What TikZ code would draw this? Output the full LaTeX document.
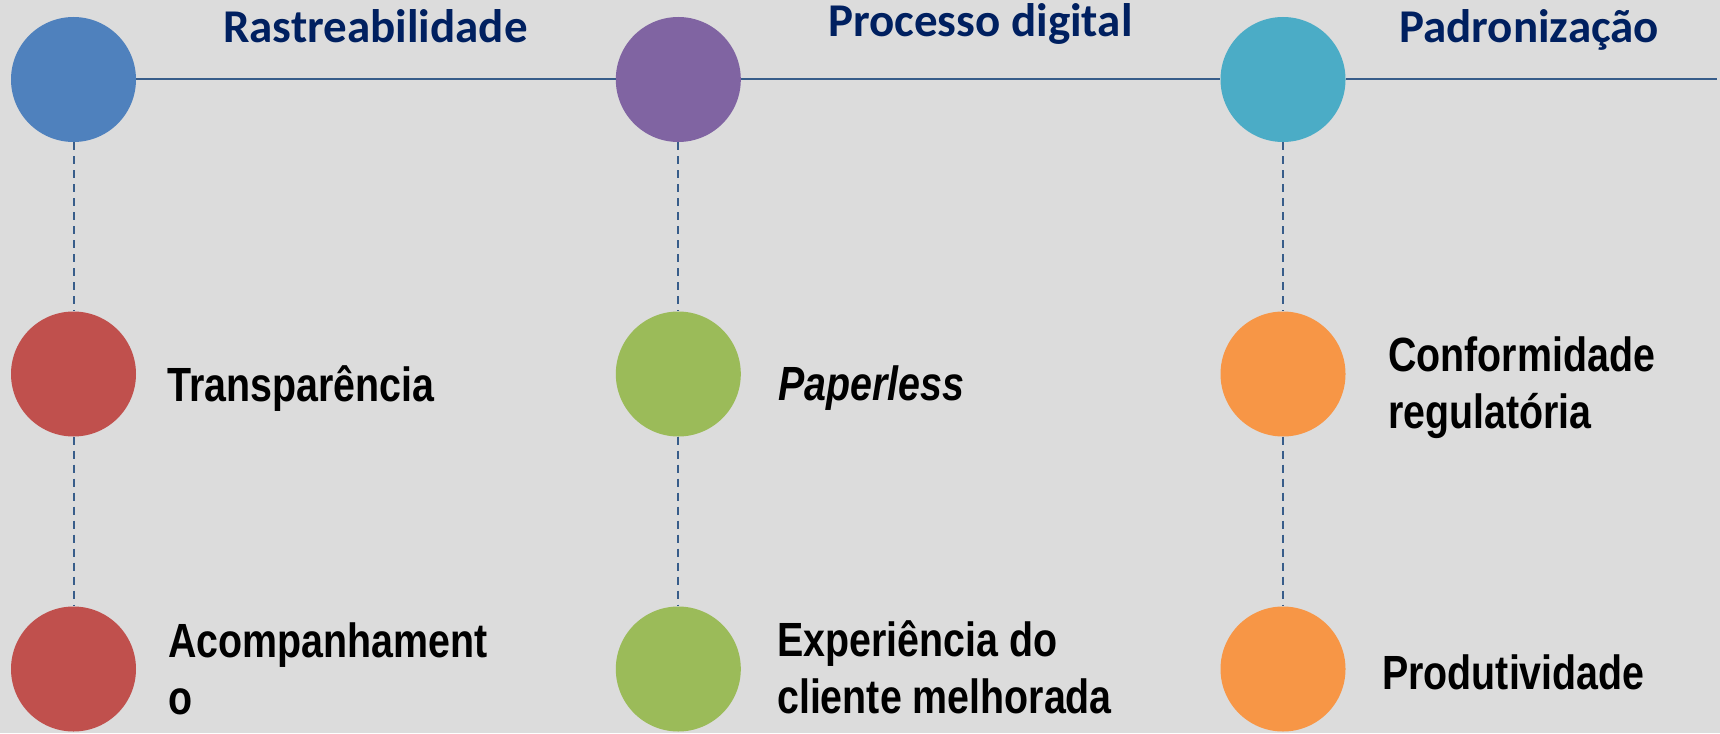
\documentclass[tikz,border=0pt]{standalone}
\usepackage{fontspec}
\newfontfamily\headfont[Ligatures=TeX]{Carlito}
\newfontfamily\bodyfont[FakeStretch=0.82]{Liberation Sans}
\definecolor{bg}{HTML}{DCDCDC}
\definecolor{linec}{HTML}{385D8A}
\definecolor{headc}{HTML}{002060}
\definecolor{cblue}{HTML}{4F81BD}
\definecolor{cpurple}{HTML}{8064A2}
\definecolor{cteal}{HTML}{4BACC6}
\definecolor{cred}{HTML}{C0504D}
\definecolor{cgreen}{HTML}{9BBB59}
\definecolor{corange}{HTML}{F79646}
\begin{document}
\begin{tikzpicture}[x=1pt,y=-1pt,
  dot/.style={circle,minimum size=125pt,inner sep=0pt,draw=none,fill=#1},
  head/.style={anchor=base west,inner sep=0pt,text=headc,font=\headfont\bfseries\fontsize{47}{56}\selectfont},
  body/.style={anchor=base west,inner sep=0pt,align=left,text=black,font=\bodyfont\bfseries\fontsize{48}{57}\selectfont},
  mainline/.style={draw=linec,line width=2pt},
  link/.style={draw=linec,line width=2pt,dash pattern=on 8pt off 6pt}]
\fill[bg] (0,0) rectangle (1720,733);
\useasboundingbox (0,0) rectangle (1720,733);
% circles
\node[dot=cblue]   (a1) at (73.5,79.5) {};
\node[dot=cpurple] (b1) at (678.3,79.5) {};
\node[dot=cteal]   (c1) at (1283,79.5) {};
\node[dot=cred]    (a2) at (73.5,374) {};
\node[dot=cgreen]  (b2) at (678.3,374) {};
\node[dot=corange] (c2) at (1283,374) {};
\node[dot=cred]    (a3) at (73.5,669) {};
\node[dot=cgreen]  (b3) at (678.3,669) {};
\node[dot=corange] (c3) at (1283,669) {};
\coordinate (end) at (1717,79.5);
% connectors
\draw[mainline] (a1.east) -- (b1.west);
\draw[mainline] (b1.east) -- (c1.west);
\draw[mainline] (c1.east) -- (end);
\foreach \c in {a,b,c}{
  \draw[link] (\c1.south) -- (\c2.north);
  \draw[link] (\c2.south) -- (\c3.north);
}
% headings
\node[head] (ha) at (223,43) {Rastreabilidade};
\node[head] (hb) at (828,37) {Processo digital};
\node[head] (hc) at (1399,43) {Padronização};
% labels (multi-line nodes are placed by the baseline of their last line)
\node[body] (ta2) at (167,401.7) {Transparência};
\node[body] (ta3) at (168,714) {Acompanhament\\o};
\node[body] (tb2) at (778,400) {\itshape Paperless};
\node[body] (tb3) at (777,713) {Experiência do\\cliente melhorada};
\node[body] (tc2) at (1388,428.3) {Conformidade\\regulatória};
\node[body] (tc3) at (1382,689) {Produtividade};
\end{tikzpicture}
\end{document}
